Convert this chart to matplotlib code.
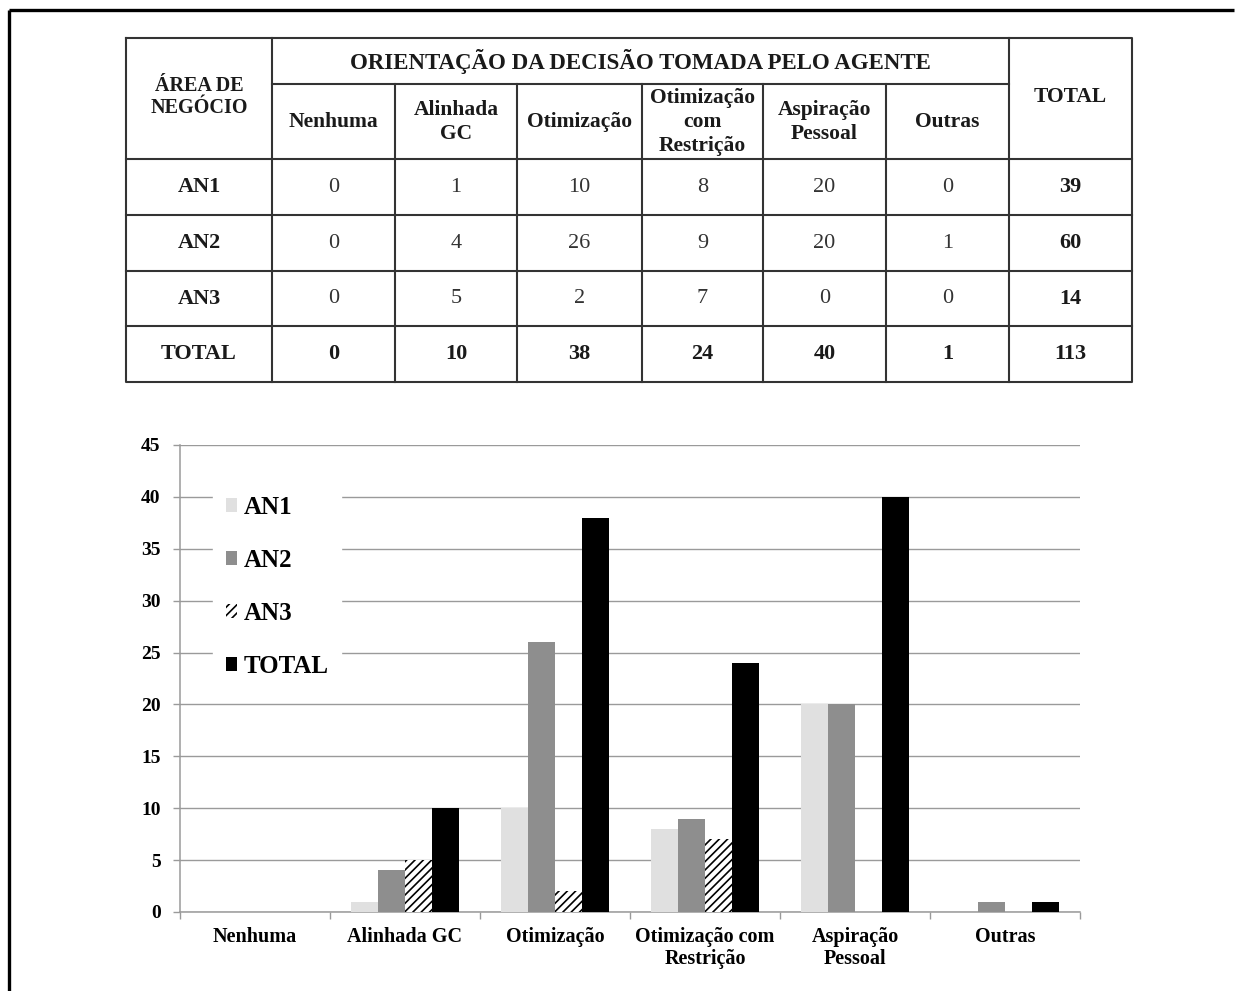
import matplotlib
matplotlib.use("Agg")
import matplotlib.pyplot as plt
import numpy as np

# ---- data -------------------------------------------------------------
categories = ["Nenhuma", "Alinhada GC", "Otimização",
              "Otimização com\nRestrição", "Aspiração\nPessoal", "Outras"]
table_headers = ["Nenhuma", "Alinhada\nGC", "Otimização",
                 "Otimização\ncom\nRestrição", "Aspiração\nPessoal", "Outras"]
areas = ["AN1", "AN2", "AN3"]
an1 = [0, 1, 10, 8, 20, 0]
an2 = [0, 4, 26, 9, 20, 1]
an3 = [0, 5, 2, 7, 0, 0]
total = [0, 10, 38, 24, 40, 1]
row_totals = [39, 60, 14]
grand_total = 113
y_ticks = [0, 5, 10, 15, 20, 25, 30, 35, 40, 45]

plt.rcParams["font.family"] = ["Liberation Serif", "DejaVu Serif"]
plt.rcParams["hatch.linewidth"] = 1.2

W, H = 1235, 991
fig = plt.figure(figsize=(W / 100, H / 100), dpi=100)
fig.patch.set_facecolor("white")

# ---- background layer in pixel coordinates (frame + table) ------------
bg = fig.add_axes([0, 0, 1, 1])
bg.set_xlim(0, W)
bg.set_ylim(H, 0)
bg.axis("off")

# page frame
bg.plot([9, 1234], [10, 10], color="black", lw=2.4, solid_capstyle="butt")
bg.plot([9, 9], [10, H], color="black", lw=2.4, solid_capstyle="butt")

# table geometry
col_x = [126, 272, 395, 517, 642, 763, 886, 1009, 1132]
row_y = [38, 84, 159, 215, 271, 326, 382]
grid_c = "#333333"
glw = 1.5

# outer box
bg.plot([col_x[0], col_x[-1], col_x[-1], col_x[0], col_x[0]],
        [row_y[0], row_y[0], row_y[-1], row_y[-1], row_y[0]],
        color=grid_c, lw=glw)
# horizontal lines
bg.plot([col_x[1], col_x[-2]], [row_y[1], row_y[1]], color=grid_c, lw=glw)
for y in row_y[2:-1]:
    bg.plot([col_x[0], col_x[-1]], [y, y], color=grid_c, lw=glw)
# vertical lines
bg.plot([col_x[1], col_x[1]], [row_y[0], row_y[-1]], color=grid_c, lw=glw)
bg.plot([col_x[-2], col_x[-2]], [row_y[0], row_y[-1]], color=grid_c, lw=glw)
for x in col_x[2:-2]:
    bg.plot([x, x], [row_y[1], row_y[-1]], color=grid_c, lw=glw)

def cx(i):
    return (col_x[i] + col_x[i + 1]) / 2

def cy(j):
    return (row_y[j] + row_y[j + 1]) / 2

bold_c = "#1a1a1a"
norm_c = "#333333"
hdr_fs = 15.5
num_fs = 16

bg.text(cx(0), 97, "ÁREA DE\nNEGÓCIO", ha="center", va="center",
        fontsize=14.5, fontweight="bold", color=bold_c, linespacing=1.15)
bg.text((col_x[1] + col_x[-2]) / 2, 61, "ORIENTAÇÃO DA DECISÃO TOMADA PELO AGENTE",
        ha="center", va="center", fontsize=16.5, fontweight="bold", color=bold_c)
bg.text(cx(7), 97, "TOTAL", ha="center", va="center",
        fontsize=hdr_fs, fontweight="bold", color=bold_c)
for i, lab in enumerate(table_headers):
    bg.text(cx(i + 1), 122, lab, ha="center", va="center", fontsize=hdr_fs,
            fontweight="bold", color=bold_c, linespacing=1.25)

table_rows = [an1, an2, an3]
for j, (name, vals, rt) in enumerate(zip(areas, table_rows, row_totals)):
    yy = cy(j + 2)
    bg.text(cx(0), yy, name, ha="center", va="center", fontsize=num_fs,
            fontweight="bold", color=bold_c)
    for i, v in enumerate(vals):
        bg.text(cx(i + 1), yy, str(v), ha="center", va="center",
                fontsize=num_fs, color=norm_c)
    bg.text(cx(7), yy, str(rt), ha="center", va="center", fontsize=num_fs,
            fontweight="bold", color=bold_c)

yy = cy(5)
bg.text(cx(0), yy, "TOTAL", ha="center", va="center", fontsize=num_fs,
        fontweight="bold", color=bold_c)
for i, v in enumerate(total):
    bg.text(cx(i + 1), yy, str(v), ha="center", va="center", fontsize=num_fs,
            fontweight="bold", color=bold_c)
bg.text(cx(7), yy, str(grand_total), ha="center", va="center", fontsize=num_fs,
        fontweight="bold", color=bold_c)

# ---- bar chart --------------------------------------------------------
ax = fig.add_axes([180 / W, 1 - 912 / H, 900 / W, 467 / H])
ax.set_facecolor("none")
x = np.arange(len(categories))
w = 0.18
ax.bar(x - 1.5 * w, an1, w, color="#e0e0e0", linewidth=0, label="AN1", zorder=3)
ax.bar(x - 0.5 * w, an2, w, color="#8e8e8e", linewidth=0, label="AN2", zorder=3)
ax.bar(x + 0.5 * w, an3, w, color="white", edgecolor="black", hatch="////",
       linewidth=0, label="AN3", zorder=3)
ax.bar(x + 1.5 * w, total, w, color="black", linewidth=0, label="TOTAL", zorder=3)

ax.set_xlim(-0.5, len(categories) - 0.5)
ax.set_ylim(0, 45)
ax.set_yticks(y_ticks)
ax.set_yticklabels([str(t) for t in y_ticks], fontsize=14, fontweight="bold")
ax.yaxis.grid(True, color="#9a9a9a", lw=1.0, zorder=0)
ax.set_axisbelow(True)

ax.set_xticks(x)
ax.set_xticklabels(categories, fontsize=14.5, fontweight="bold", linespacing=1.12)
ax.set_xticks(np.arange(-0.5, len(categories), 1.0), minor=True)
ax.tick_params(axis="x", which="major", length=0, pad=11)
ax.tick_params(axis="x", which="minor", length=5, color="#9a9a9a", width=1.0)
ax.tick_params(axis="y", length=5, color="#9a9a9a", width=1.0, pad=9)

for s in ["top", "right"]:
    ax.spines[s].set_visible(False)
for s in ["left", "bottom"]:
    ax.spines[s].set_color("#9a9a9a")
    ax.spines[s].set_linewidth(1.1)

leg = ax.legend(loc="upper left", bbox_to_anchor=(0.037, 0.918),
                frameon=True, fancybox=False, framealpha=1, edgecolor="white",
                facecolor="white", borderaxespad=0,
                prop={"size": 18, "weight": "bold"},
                handlelength=0.45, handleheight=0.45, handletextpad=0.25,
                labelspacing=1.2, borderpad=0.5)
leg.set_zorder(5)

fig.savefig("out.png", dpi=100, facecolor="white")
